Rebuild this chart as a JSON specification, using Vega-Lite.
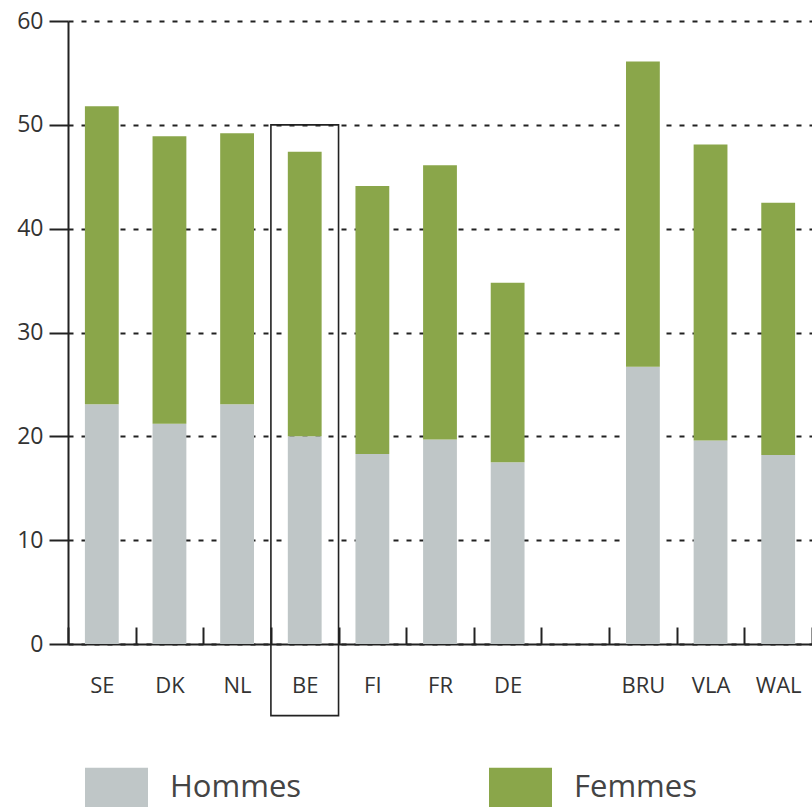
{
  "$schema": "https://vega.github.io/schema/vega-lite/v6.json",
  "width": 744,
  "height": 623,
  "autosize": {"type": "none"},
  "padding": {"left": 68, "top": 21, "right": 0, "bottom": 163},
  "config": {"view": {"stroke": null}, "font": "Open Sans"},
  "datasets": {
    "barres": [
      {"pays": "SE", "sexe": "Hommes", "ordre": 1, "valeur": 23.1},
      {"pays": "SE", "sexe": "Femmes", "ordre": 2, "valeur": 28.7},
      {"pays": "DK", "sexe": "Hommes", "ordre": 1, "valeur": 21.2},
      {"pays": "DK", "sexe": "Femmes", "ordre": 2, "valeur": 27.7},
      {"pays": "NL", "sexe": "Hommes", "ordre": 1, "valeur": 23.1},
      {"pays": "NL", "sexe": "Femmes", "ordre": 2, "valeur": 26.1},
      {"pays": "BE", "sexe": "Hommes", "ordre": 1, "valeur": 20.0},
      {"pays": "BE", "sexe": "Femmes", "ordre": 2, "valeur": 27.4},
      {"pays": "FI", "sexe": "Hommes", "ordre": 1, "valeur": 18.3},
      {"pays": "FI", "sexe": "Femmes", "ordre": 2, "valeur": 25.8},
      {"pays": "FR", "sexe": "Hommes", "ordre": 1, "valeur": 19.7},
      {"pays": "FR", "sexe": "Femmes", "ordre": 2, "valeur": 26.4},
      {"pays": "DE", "sexe": "Hommes", "ordre": 1, "valeur": 17.5},
      {"pays": "DE", "sexe": "Femmes", "ordre": 2, "valeur": 17.3},
      {"pays": "BRU", "sexe": "Hommes", "ordre": 1, "valeur": 26.7},
      {"pays": "BRU", "sexe": "Femmes", "ordre": 2, "valeur": 29.4},
      {"pays": "VLA", "sexe": "Hommes", "ordre": 1, "valeur": 19.6},
      {"pays": "VLA", "sexe": "Femmes", "ordre": 2, "valeur": 28.5},
      {"pays": "WAL", "sexe": "Hommes", "ordre": 1, "valeur": 18.2},
      {"pays": "WAL", "sexe": "Femmes", "ordre": 2, "valeur": 24.3}
    ],
    "cadre": [
      {"pays": "BE", "haut": 50, "bas": -6.9}
    ]
  },
  "layer": [
    {
      "data": {"name": "barres"},
      "mark": {"type": "bar", "width": {"band": 0.5}},
      "encoding": {
        "x": {
          "field": "pays",
          "type": "nominal",
          "scale": {
            "domain": ["SE", "DK", "NL", "BE", "FI", "FR", "DE", " ", "BRU", "VLA", "WAL"],
            "paddingInner": 0,
            "paddingOuter": 0
          },
          "axis": {
            "title": null,
            "orient": "bottom",
            "grid": false,
            "tickBand": "extent",
            "tickSize": -17,
            "tickWidth": 2,
            "tickColor": "#222",
            "domainColor": "#222",
            "domainWidth": 2,
            "labelAngle": 0,
            "labelFontSize": 22,
            "labelColor": "#333",
            "labelPadding": 48
          }
        },
        "y": {
          "field": "valeur",
          "type": "quantitative",
          "stack": "zero",
          "scale": {"domain": [0, 60], "nice": false},
          "axis": {
            "title": null,
            "values": [0, 10, 20, 30, 40, 50, 60],
            "tickSize": 19,
            "tickWidth": 2,
            "tickColor": "#222",
            "domainColor": "#222",
            "domainWidth": 2,
            "grid": true,
            "gridDash": [5, 8],
            "gridColor": "#222",
            "gridWidth": 2,
            "labelFontSize": 23,
            "labelColor": "#333",
            "labelPadding": 6
          }
        },
        "color": {
          "field": "sexe",
          "type": "nominal",
          "scale": {"domain": ["Hommes", "Femmes"], "range": ["#bfc6c7", "#8aa64a"]},
          "legend": {
            "title": null,
            "orient": "none",
            "legendX": 17,
            "legendY": 735,
            "direction": "horizontal",
            "padding": 0,
            "symbolType": "M-1,-0.635H1V0.635H-1Z",
            "symbolSize": 3969,
            "symbolStrokeWidth": 0,
            "symbolOpacity": 1,
            "labelFontSize": 31,
            "labelColor": "#444",
            "labelOffset": 22,
            "columnPadding": 187,
            "labelLimit": 400
          }
        },
        "order": {"field": "ordre", "type": "quantitative", "sort": "ascending"}
      }
    },
    {
      "data": {"name": "cadre"},
      "mark": {"type": "bar", "fill": "transparent", "stroke": "#222", "strokeWidth": 1.6, "clip": false},
      "encoding": {
        "x": {"field": "pays", "type": "nominal"},
        "y": {"field": "haut", "type": "quantitative"},
        "y2": {"field": "bas"}
      }
    }
  ]
}
